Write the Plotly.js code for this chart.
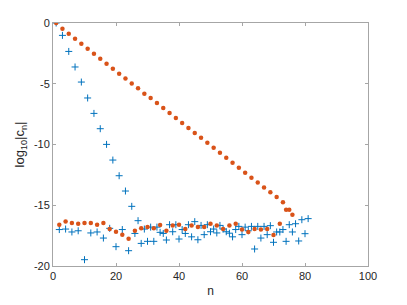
<!DOCTYPE html>
<html>
<head>
<meta charset="utf-8">
<script src="https://cdn.plot.ly/plotly-3.0.1.min.js"></script>
<style>html,body{margin:0;padding:0;background:#fff;}#chart{width:407px;height:305px;}</style>
</head>
<body>
<div id="chart"></div>
<script>
// Series 1 (blue '+'): n = 1..81
var blueN = [];
for (var i = 1; i <= 81; i++) blueN.push(i);
var blueVals = [
  0, -17.0, -1.02, -16.96, -2.34, -17.2, -3.62, -17.1, -4.86, -19.48,
  -6.17, -17.28, -7.44, -17.2, -8.7, -17.7, -9.99, -16.9, -11.28, -18.41,
  -12.57, -17.0, -13.83, -18.74, -15.09, -17.32, -16.27, -18.14, -16.96, -17.97,
  -16.8, -17.97, -16.8, -17.23, -17.32, -17.86, -16.6, -17.18, -16.6, -17.78,
  -17.0, -17.32, -16.6, -17.6, -16.35, -17.84, -16.66, -17.42, -16.6, -17.18,
  -16.96, -17.28, -16.66, -16.96, -17.18, -17.3, -17.6, -17.0, -16.74, -17.42,
  -16.8, -17.1, -16.74, -18.6, -16.74, -17.7, -16.74, -17.42, -16.68, -18.05,
  -17.2, -17.2, -17.0, -17.97, -16.6, -17.2, -16.52, -17.94, -16.19, -17.34,
  -16.1
];
// Series 2 (orange '*'): n = 1..76
var orangeN = [];
for (var j = 1; j <= 76; j++) orangeN.push(j);
var orangeVals = [
  0, -16.6, -0.47, -16.33, -0.88, -16.46, -1.29, -16.52, -1.70, -16.46,
  -2.12, -16.46, -2.53, -16.6, -2.94, -16.46, -3.35, -16.96, -3.76, -17.18,
  -4.17, -17.42, -4.56, -17.75, -4.97, -17.1, -5.38, -16.9, -5.82, -16.8,
  -6.18, -16.9, -6.59, -16.63, -7.0, -17.1, -7.41, -16.66, -7.82, -16.6,
  -8.23, -16.96, -8.64, -16.66, -9.05, -16.8, -9.44, -16.8, -9.85, -16.52,
  -10.26, -16.66, -10.67, -16.96, -11.09, -16.66, -11.5, -16.52, -11.91, -17.0,
  -12.32, -17.2, -12.73, -16.96, -13.12, -17.0, -13.53, -16.96, -13.94, -17.45,
  -14.32, -16.52, -14.76, -15.37, -15.37, -15.78
];
var xTicks = [0, 20, 40, 60, 80, 100];
var yTicks = [-20, -15, -10, -5, 0];

var traces = [
  {x: blueN, y: blueVals, type: 'scatter', mode: 'markers',
   marker: {symbol: 'cross-thin-open', size: 5, color: '#0072BD', line: {color: '#0072BD', width: 1}}},
  {x: orangeN, y: orangeVals, type: 'scatter', mode: 'markers',
   marker: {symbol: 'circle', size: 4.5, color: '#D95319', line: {width: 0}}}
];

var axisCommon = {
  showgrid: false, zeroline: false, showline: true, mirror: 'ticks',
  linecolor: '#a6a6a6', linewidth: 1, ticks: 'inside', ticklen: 3,
  tickcolor: '#a6a6a6', tickwidth: 1,
  tickfont: {family: 'Liberation Sans, Arial, sans-serif', size: 11, color: '#262626'}
};

var layout = {
  width: 407, height: 305,
  margin: {l: 53, r: 39, t: 23, b: 39},
  paper_bgcolor: '#ffffff', plot_bgcolor: '#ffffff',
  showlegend: false,
  xaxis: Object.assign({}, axisCommon, {
    range: [0, 100], tickvals: xTicks, ticktext: xTicks.map(String),
    title: {text: 'n', standoff: 5, font: {family: 'Liberation Sans, Arial, sans-serif', size: 12, color: '#262626'}}
  }),
  yaxis: Object.assign({}, axisCommon, {
    range: [-20, 0], tickvals: yTicks, ticktext: yTicks.map(String),
    title: {text: 'log<sub>10</sub>|c<sub>n</sub>|', standoff: 6, font: {family: 'Liberation Sans, Arial, sans-serif', size: 13, color: '#262626'}}
  })
};

Plotly.newPlot('chart', traces, layout, {staticPlot: true, displayModeBar: false});
</script>
</body>
</html>
